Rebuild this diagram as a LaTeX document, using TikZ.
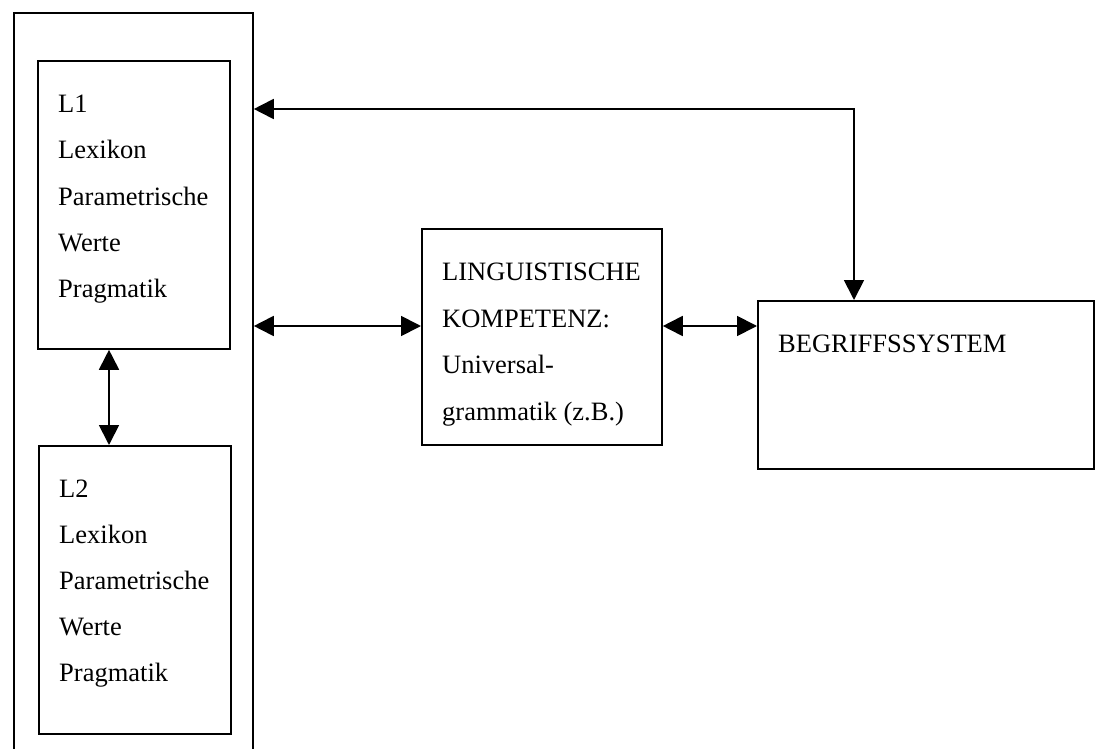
\documentclass[tikz,border=0pt]{standalone}
\usepackage{fontspec}
\setmainfont{Liberation Serif}
\usetikzlibrary{arrows.meta}
\begin{document}
\begin{tikzpicture}[x=1pt,y=-1pt,
  box/.style={draw,line width=1.8pt,inner sep=0pt,anchor=north west},
  lbl/.style={anchor=base west,inner sep=0pt,font=\fontsize{26.5}{32}\selectfont},
  link/.style={line width=1.8pt,{Triangle[length=20pt,width=20pt]}-{Triangle[length=20pt,width=20pt]}}]
\clip (0,0) rectangle (1095,749);
\useasboundingbox (0,0) rectangle (1095,749);
% boxes
\node[box,minimum width=239pt,minimum height=770pt] (outer) at (13,12) {};
\node[box,minimum width=192pt,minimum height=288pt] (l1) at (37,60) {};
\node[box,minimum width=192pt,minimum height=288pt] (l2) at (38,445) {};
\node[box,minimum width=240pt,minimum height=216pt] (lk) at (421,228) {};
\node[box,minimum width=336pt,minimum height=168pt] (bs) at (757,300) {};
% texts
\node[lbl] (l1a) at (58,113) {L1};
\node[lbl] (l1b) at (58,159) {Lexikon};
\node[lbl] (l1c) at (58,205) {Parametrische};
\node[lbl] (l1d) at (58,251) {Werte};
\node[lbl] (l1e) at (58,297) {Pragmatik};
\node[lbl] (l2a) at (59,497) {L2};
\node[lbl] (l2b) at (59,543) {Lexikon};
\node[lbl] (l2c) at (59,589) {Parametrische};
\node[lbl] (l2d) at (59,635) {Werte};
\node[lbl] (l2e) at (59,681) {Pragmatik};
\node[lbl] (lka) at (442,280) {LINGUISTISCHE};
\node[lbl] (lkb) at (442,327) {KOMPETENZ:};
\node[lbl] (lkc) at (442,373) {Universal-};
\node[lbl] (lkd) at (442,420) {grammatik (z.B.)};
\node[lbl] (bsa) at (778,352) {BEGRIFFSSYSTEM};
% connectors
\coordinate (t) at (854,109);
\coordinate (m) at (0,326);
\coordinate (v) at (109,0);
\draw[link] (outer.east |- t) -- (t) -- (t |- bs.north);
\draw[link] (outer.east |- m) -- (lk.west |- m);
\draw[link] (lk.east |- m) -- (bs.west |- m);
\draw[link] (l1.south -| v) -- (l2.north -| v);
\end{tikzpicture}
\end{document}
